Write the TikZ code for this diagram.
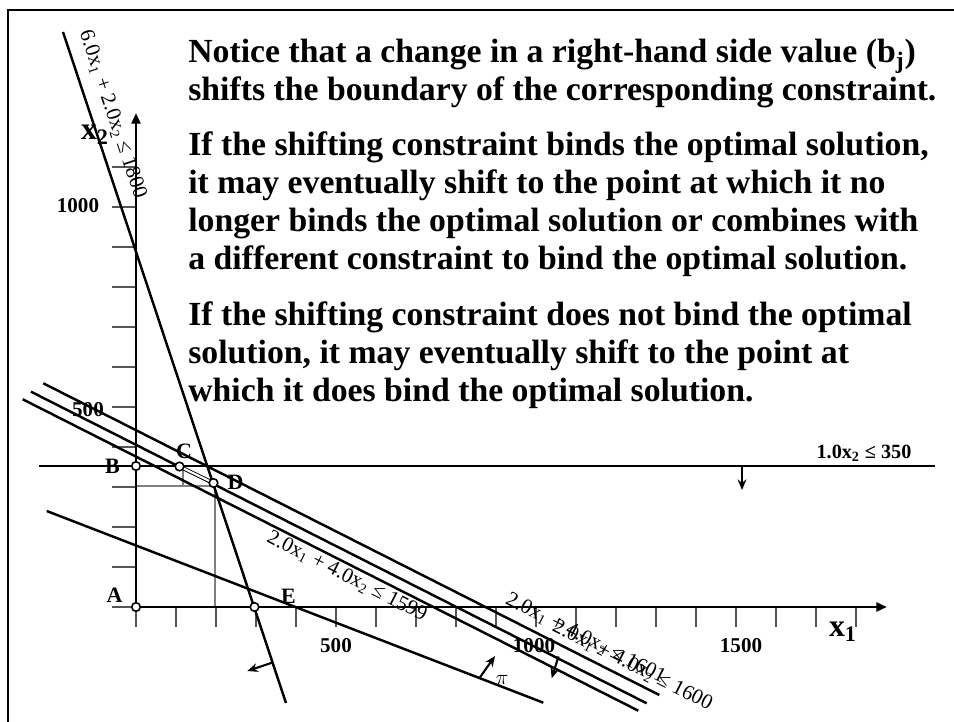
\documentclass[tikz,border=0pt]{standalone}
\usepackage{fontspec}
\setmainfont{Liberation Serif}
\usetikzlibrary{arrows.meta}
\definecolor{ink}{HTML}{000000}
\definecolor{tickgray}{HTML}{555555}
\definecolor{helpgray}{HTML}{808080}
\tikzset{
  cline/.style={line width=1.4pt,ink},
  axis/.style ={line width=1.5pt,ink,-{Triangle[length=6pt,width=5pt]}},
  tk/.style   ={line width=1.2pt,tickgray},
  hlp/.style  ={line width=0.8pt,helpgray},
  vtx/.style  ={circle,draw=ink,fill=white,line width=0.9pt,minimum size=4.9pt,inner sep=0pt},
  plbl/.style ={font=\fontsize{12.5}{14}\selectfont\bfseries,inner sep=0pt},
  num/.style  ={font=\fontsize{12}{14}\selectfont\bfseries,inner sep=0pt},
  clbl/.style ={font=\fontsize{12}{14}\selectfont,inner sep=0pt},
  xlbl/.style ={font=\fontsize{18}{20}\selectfont\bfseries,inner sep=0pt},
  txt/.style  ={font=\fontsize{19.2}{21.7}\selectfont\bfseries,align=left,anchor=north west,inner sep=0pt},
  dirarr/.style={-{Stealth[length=6pt,width=5pt]},line width=1.2pt,ink},
}

\begin{document}
\begin{tikzpicture}[x=0.02cm,y=-0.02cm]
\useasboundingbox (0,0) rectangle (954,722);
% frame
\draw[line width=1.1pt] (8,722) -- (8,10) -- (954,10);
% text block
\node[txt] (p1) at (188,39) {Notice that a change in a right-hand side value (b\textsubscript{j})\\shifts the boundary of the corresponding constraint.};
\node[txt] (p2) at (188,131) {If the shifting constraint binds the optimal solution,\\it may eventually shift to the point at which it no\\longer binds the optimal solution or combines with\\a different constraint to bind the optimal solution.};
\node[txt] (p3) at (188,301) {If the shifting constraint does not bind the optimal\\solution, it may eventually shift to the point at\\which it does bind the optimal solution.};
% key points
\coordinate (A) at (136,607);
\coordinate (B) at (136,466);
\coordinate (C) at (179.5,466.5);
\coordinate (D) at (213.5,483);
\coordinate (E) at (254.5,607);
% helper lines
\draw[hlp] (136,486) -- (215,486) -- (215,607);
\draw[hlp] (183,470) -- (183,486);
% ticks
\foreach \i in {0,...,18} \draw[tk] (136+40*\i,607) -- ++(0,20);
\foreach \i in {0,...,11} \draw[tk] (136,607-40*\i) -- ++(-24,0);
% axes
\draw[axis] (A) -- (887,607);
\draw[axis] (A) -- (136,113);
% constraints
\draw[cline] (63,32) -- (286,703);
\draw[cline] (39,466) -- (935,466);
\draw[cline] (43.3,383.3) -- (659.3,695);
\draw[cline] (31,391.7) -- (646.7,703.3);
\draw[cline] (22.7,399.3) -- (638.3,710.7);
% objective
\draw[cline] (46.7,511) -- (543.3,702.7);
\draw[double,double distance=1.2pt,line width=0.5pt] (C) -- (D);
% directions
\coordinate (s1) at (272,662.7);  \coordinate (s2) at (247.3,671);
\coordinate (o1) at (479.3,678.3); \coordinate (o2) at (495,656);
\coordinate (m1) at (558.5,656.5); \coordinate (m2) at (551.7,678.3);
\coordinate (h1) at (742,466);     \coordinate (h2) at (742,490);
\draw[dirarr] (s1) -- (s2);
\draw[dirarr] (o1) -- (o2);
\draw[dirarr] (m1) -- (m2);
\draw[dirarr] (h1) -- (h2);
\node[clbl,font=\fontsize{12}{14}\selectfont\itshape] (pi) at (502,680) {$\pi$};
% vertices
\foreach \p in {A,B,C,D,E} \node[vtx] at (\p) {};
\node[plbl] (la) at (114.5,595) {A};
\node[plbl] (lb) at (112.5,466) {B};
\node[plbl] (lc) at (184,451) {C};
\node[plbl] (ld) at (235.5,482.5) {D};
\node[plbl] (le) at (288.5,596.5) {E};
% axis numbers
\node[num] (y1000) at (78,206) {1000};
\node[num] (y500) at (88,410) {500};
\node[num] (x500) at (336,646) {500};
\node[num] (x1000) at (534,646) {1000};
\node[num] (x1500) at (741,646) {1500};
\node[xlbl] (x1) at (843,632) {x\textsubscript{1}};
\node[xlbl] (x2) at (95,135) {x\textsubscript{2}};
% constraint labels
\node[clbl,rotate=-71.6] (c1) at (112.5,114.5) {6.0x\textsubscript{1} + 2.0x\textsubscript{2} ≤ 1800};
\node[num,font=\fontsize{11.5}{14}\selectfont\bfseries] (c2) at (864,453) {1.0x\textsubscript{2} ≤ 350};
\node[clbl,rotate=-27] (c3) at (347,576.5) {2.0x\textsubscript{1} + 4.0x\textsubscript{2} ≤ 1599};
\node[clbl,rotate=-27] (c4) at (585.7,638.5) {2.0x\textsubscript{1} + 4.0x\textsubscript{2} ≤ 1601};
\node[clbl,rotate=-27] (c5) at (632.4,665.5) {2.0x\textsubscript{1} + 4.0x\textsubscript{2} ≤ 1600};
\end{tikzpicture}
\end{document}
